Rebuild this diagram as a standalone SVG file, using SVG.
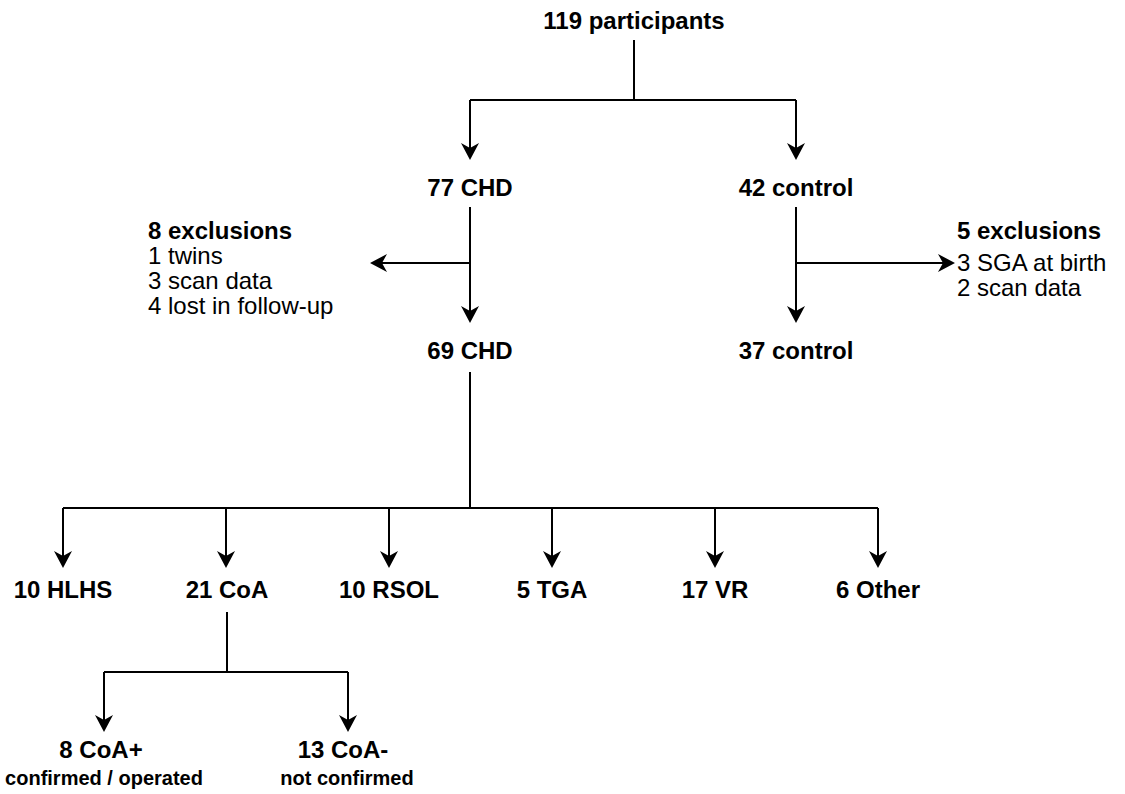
<svg xmlns="http://www.w3.org/2000/svg" width="1125" height="794" viewBox="0 0 1125 794">
<style>
text{font-family:"Liberation Sans",Arial,Helvetica,sans-serif;fill:#000}
.b{font-weight:bold;font-size:24px}
.r{font-size:24px}
.s{font-weight:bold;font-size:20px}
.c{text-anchor:middle}
.ln{fill:none;stroke:#000;stroke-width:2}
.ar{marker-end:url(#ah)}
</style>
<defs>
<marker id="ah" markerUnits="userSpaceOnUse" viewBox="-8 -10 20 20" markerWidth="20" markerHeight="20" refX="0" refY="0" orient="auto">
<path d="M10,0 L-7,-9 L-2,0 L-7,9 Z" fill="#000"/>
</marker>
</defs>
<rect width="1125" height="794" fill="#fff"/>
<g id="connectors">
<path class="ln" d="M634,40 V100 M470,100 H796"/>
<path class="ln ar" d="M470,100 V150"/>
<path class="ln ar" d="M796,100 V150"/>
<path class="ln ar" d="M470,207 V313"/>
<path class="ln ar" d="M470,263 H380"/>
<path class="ln ar" d="M796,207 V313"/>
<path class="ln ar" d="M796,263 H945"/>
<path class="ln" d="M470,372 V508 M63,508 H878"/>
<path class="ln ar" d="M63,508 V558"/>
<path class="ln ar" d="M226,508 V558"/>
<path class="ln ar" d="M389,508 V558"/>
<path class="ln ar" d="M552,508 V558"/>
<path class="ln ar" d="M715,508 V558"/>
<path class="ln ar" d="M878,508 V558"/>
<path class="ln" d="M227,612 V672 M104,672 H348"/>
<path class="ln ar" d="M104,672 V722"/>
<path class="ln ar" d="M348,672 V722"/>
</g>
<g id="n-participants"><text class="b c" x="634" y="29">119 participants</text></g>
<g id="n-chd77"><text class="b c" x="470" y="196">77 CHD</text></g>
<g id="n-control42"><text class="b c" x="796" y="196">42 control</text></g>
<g id="n-excl-left">
<text class="b" x="148" y="239">8 exclusions</text>
<text class="r" x="148" y="264">1 twins</text>
<text class="r" x="148" y="289">3 scan data</text>
<text class="r" x="148" y="314">4 lost in follow-up</text>
</g>
<g id="n-excl-right">
<text class="b" x="957" y="239">5 exclusions</text>
<text class="r" x="957" y="271">3 SGA at birth</text>
<text class="r" x="957" y="296">2 scan data</text>
</g>
<g id="n-chd69"><text class="b c" x="470" y="359">69 CHD</text></g>
<g id="n-control37"><text class="b c" x="796" y="359">37 control</text></g>
<g id="n-hlhs"><text class="b c" x="63" y="598">10 HLHS</text></g>
<g id="n-coa"><text class="b c" x="227" y="598">21 CoA</text></g>
<g id="n-rsol"><text class="b c" x="389" y="598">10 RSOL</text></g>
<g id="n-tga"><text class="b c" x="552" y="598">5 TGA</text></g>
<g id="n-vr"><text class="b c" x="715" y="598">17 VR</text></g>
<g id="n-other"><text class="b c" x="878" y="598">6 Other</text></g>
<g id="n-coaplus">
<text class="b c" x="101" y="758">8 CoA+</text>
<text class="s c" x="104" y="785">confirmed / operated</text>
</g>
<g id="n-coaminus">
<text class="b c" x="343" y="758">13 CoA-</text>
<text class="s c" x="347" y="785">not confirmed</text>
</g>
</svg>
